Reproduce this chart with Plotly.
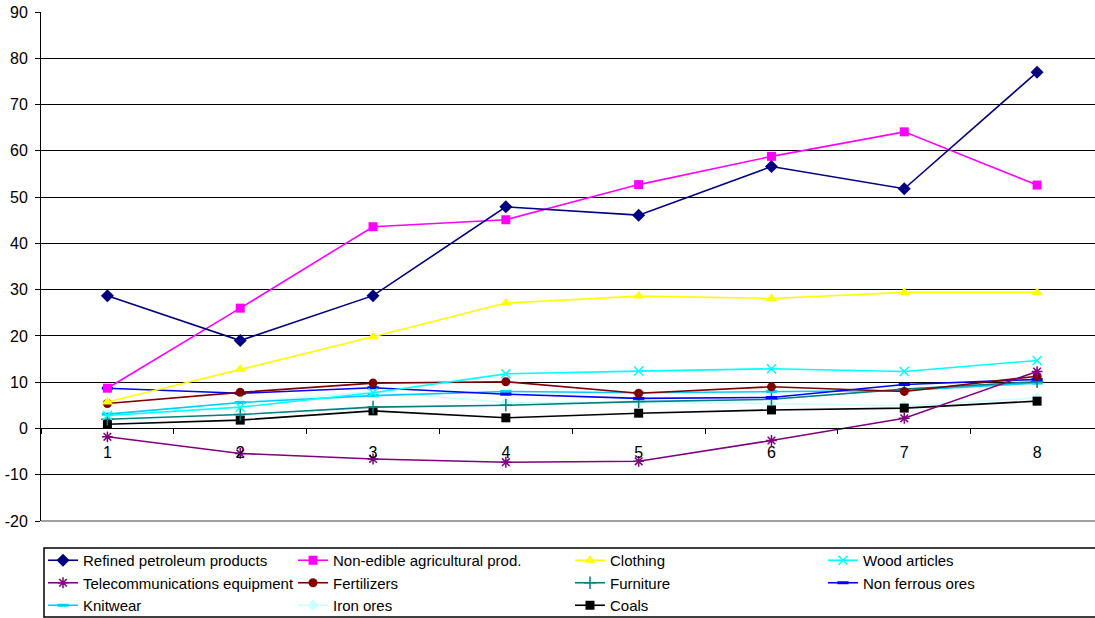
import plotly.graph_objects as go

# Periods on the horizontal axis
periods = ["1", "2", "3", "4", "5", "6", "7", "8"]

# Value-axis ticks and their labels
y_tick_values = [-20, -10, 0, 10, 20, 30, 40, 50, 60, 70, 80, 90]
y_tick_labels = ["-20", "-10", "0", "10", "20", "30", "40", "50", "60", "70", "80", "90"]

# Series values per period
refined_petroleum = [28.7, 19.0, 28.7, 47.9, 46.1, 56.6, 51.8, 77.0]
non_edible_agri = [8.7, 26.0, 43.6, 45.1, 52.7, 58.8, 64.1, 52.6]
clothing = [5.7, 12.8, 19.8, 27.1, 28.6, 28.1, 29.4, 29.4]
wood_articles = [2.8, 4.6, 7.7, 11.8, 12.4, 12.9, 12.3, 14.7]
telecom_equipment = [-1.8, -5.4, -6.6, -7.3, -7.1, -2.6, 2.2, 12.3]
fertilizers = [5.4, 7.8, 9.8, 10.1, 7.6, 9.0, 8.0, 11.3]
furniture = [2.0, 3.0, 4.6, 5.0, 5.8, 6.3, 8.5, 10.1]
non_ferrous_ores = [8.7, 7.6, 8.8, 7.4, 6.5, 6.7, 9.5, 10.6]
knitwear = [3.1, 5.6, 7.1, 8.0, 7.7, 8.0, 8.2, 9.8]
iron_ores = [3.0, 5.6, 8.0, 5.6, 5.6, 5.4, 4.9, 6.6]
coals = [0.9, 1.8, 3.8, 2.3, 3.3, 4.0, 4.4, 5.9]

FONT = "Liberation Sans, Arial, sans-serif"

# name, values, colour, marker symbol, marker size, marker outline width, legend column
series = [
    ("Refined petroleum products", refined_petroleum, "#000080", "diamond", 10, 0, "legend"),
    ("Telecommunications equipment", telecom_equipment, "#800080", "asterisk", 9, 1.5, "legend"),
    ("Knitwear", knitwear, "#00CCFF", "line-ew", 8, 3, "legend"),
    ("Non-edible agricultural prod.", non_edible_agri, "#FF00FF", "square", 9, 0, "legend2"),
    ("Fertilizers", fertilizers, "#800000", "circle", 9, 0, "legend2"),
    ("Iron ores", iron_ores, "#CCFFFF", "diamond", 9, 0, "legend2"),
    ("Clothing", clothing, "#FFFF00", "triangle-up", 10, 0, "legend3"),
    ("Furniture", furniture, "#008080", "cross-thin", 9, 1.5, "legend3"),
    ("Coals", coals, "#000000", "square", 9, 0, "legend3"),
    ("Wood articles", wood_articles, "#00FFFF", "x-thin", 9, 1.5, "legend4"),
    ("Non ferrous ores", non_ferrous_ores, "#0000FF", "line-ew", 8, 3, "legend4"),
]

# drawing order: the earlier legend entries end up on top
draw_order = [
    "Iron ores", "Knitwear", "Coals", "Furniture", "Non ferrous ores", "Fertilizers",
    "Wood articles", "Telecommunications equipment", "Clothing",
    "Non-edible agricultural prod.", "Refined petroleum products",
]
rank = {s[0]: i for i, s in enumerate(series)}
by_name = {s[0]: s for s in series}

fig = go.Figure()
for name in draw_order:
    nm, vals, col, sym, size, lw, leg = by_name[name]
    fig.add_trace(go.Scatter(
        x=periods, y=vals, name=nm, mode="lines+markers",
        line=dict(color=col, width=1.6),
        marker=dict(symbol=sym, size=size, color=col,
                    line=dict(color=col, width=lw)),
        legend=leg, legendrank=rank[nm] + 1,
    ))

W, H = 1095, 618
ML, MR, MT, MB = 41, 0, 12, 97
YMIN, YMAX = -20, 90
plot_w = W - ML - MR
plot_h = H - MT - MB


def px_x(px):
    return (px - ML) / plot_w


def px_y(py):
    return (H - MB - py) / plot_h


legend_common = dict(
    font=dict(family=FONT, size=15, color="#000000"),
    bgcolor="rgba(0,0,0,0)", borderwidth=0,
    xref="container", yref="container",
    xanchor="left", yanchor="top",
    tracegroupgap=0, traceorder="normal",
)
legend_y = 1 - 544 / H

fig.update_layout(
    width=W, height=H,
    margin=dict(l=ML, r=MR, t=MT, b=MB, autoexpand=False),
    paper_bgcolor="#FFFFFF", plot_bgcolor="#FFFFFF",
    font=dict(family=FONT, size=15, color="#000000"),
    showlegend=True,
    legend=dict(x=43 / W, y=legend_y, **legend_common),
    legend2=dict(x=293 / W, y=legend_y, **legend_common),
    legend3=dict(x=570 / W, y=legend_y, **legend_common),
    legend4=dict(x=823 / W, y=legend_y, **legend_common),
    xaxis=dict(
        type="category", range=[-0.5, 7.436],
        showgrid=False, zeroline=False,
        showline=True, linecolor="#000000", linewidth=1,
        ticks="outside", ticklen=5, tickcolor="#000000", tickson="boundaries",
        ticklabelstandoff=9,
        anchor="free", position=(0 - YMIN) / (YMAX - YMIN),
        tickfont=dict(family=FONT, size=16, color="#000000"),
    ),
    yaxis=dict(
        range=[YMIN, YMAX], tickmode="array",
        tickvals=y_tick_values, ticktext=y_tick_labels,
        showgrid=True, gridcolor="#000000", gridwidth=1,
        zeroline=False,
        showline=True, linecolor="#000000", linewidth=1,
        ticks="outside", ticklen=5, tickcolor="#000000",
        ticklabelstandoff=4,
        tickfont=dict(family=FONT, size=16, color="#000000"),
    ),
    shapes=[
        # lower border of the plot area
        dict(type="line", xref="paper", yref="paper", x0=0, x1=1, y0=0, y1=0,
             line=dict(color="#808080", width=1.5)),
        # legend frame
        dict(type="rect", xref="paper", yref="paper",
             x0=px_x(44), x1=px_x(1100), y0=px_y(548), y1=px_y(617),
             line=dict(color="#000000", width=1.5), fillcolor="rgba(0,0,0,0)"),
    ],
)

fig.write_html("out.html")
